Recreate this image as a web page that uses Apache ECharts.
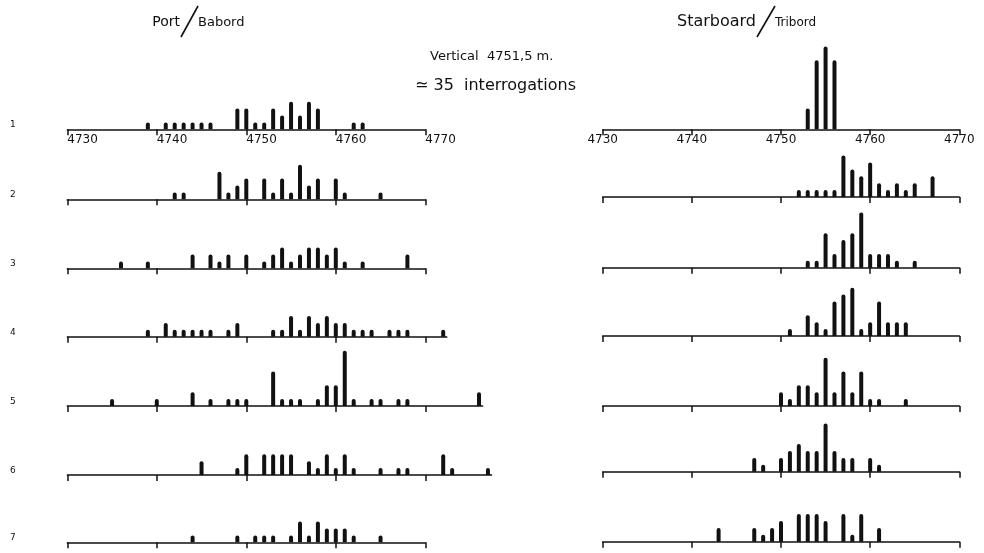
<!DOCTYPE html>
<html><head><meta charset="utf-8">
<script src="https://cdn.jsdelivr.net/npm/echarts@6/dist/echarts.min.js"></script>
<style>html,body{margin:0;padding:0;background:#fff}#c{width:984px;height:553px}</style>
</head><body><div id="c"></div><script>
// ---------- DATA (depth in m, count of interrogations) ----------
const tickValues = [4730, 4740, 4750, 4760, 4770];
const rowLabels = ['1', '2', '3', '4', '5', '6', '7'];
const titlePort = ['Port', 'Babord'];
const titleStar = ['Starboard', 'Tribord'];
const noteLines = ['Vertical  4751,5 m.', '\u2243 35  interrogations'];

const port1 = [[4739,1],[4741,1],[4742,1],[4743,1],[4744,1],[4745,1],[4746,1],[4749,3],[4750,3],[4751,1],[4752,1],[4753,3],[4754,2],[4755,4],[4756,2],[4757,4],[4758,3],[4762,1],[4763,1]];
const port2 = [[4742,1],[4743,1],[4747,4],[4748,1],[4749,2],[4750,3],[4752,3],[4753,1],[4754,3],[4755,1],[4756,5],[4757,2],[4758,3],[4760,3],[4761,1],[4765,1]];
const port3 = [[4736,1],[4739,1],[4744,2],[4746,2],[4747,1],[4748,2],[4750,2],[4752,1],[4753,2],[4754,3],[4755,1],[4756,2],[4757,3],[4758,3],[4759,2],[4760,3],[4761,1],[4763,1],[4768,2]];
const port4 = [[4739,1],[4741,2],[4742,1],[4743,1],[4744,1],[4745,1],[4746,1],[4748,1],[4749,2],[4753,1],[4754,1],[4755,3],[4756,1],[4757,3],[4758,2],[4759,3],[4760,2],[4761,2],[4762,1],[4763,1],[4764,1],[4766,1],[4767,1],[4768,1],[4772,1]];
const port5 = [[4735,1],[4740,1],[4744,2],[4746,1],[4748,1],[4749,1],[4750,1],[4753,5],[4754,1],[4755,1],[4756,1],[4758,1],[4759,3],[4760,3],[4761,8],[4762,1],[4764,1],[4765,1],[4767,1],[4768,1],[4776,2]];
const port6 = [[4745,2],[4749,1],[4750,3],[4752,3],[4753,3],[4754,3],[4755,3],[4757,2],[4758,1],[4759,3],[4760,1],[4761,3],[4762,1],[4765,1],[4767,1],[4768,1],[4772,3],[4773,1],[4777,1]];
const port7 = [[4744,1],[4749,1],[4751,1],[4752,1],[4753,1],[4755,1],[4756,3],[4757,1],[4758,3],[4759,2],[4760,2],[4761,2],[4762,1],[4765,1]];

const star1 = [[4753,3],[4754,10],[4755,12],[4756,10]];
const star2 = [[4752,1],[4753,1],[4754,1],[4755,1],[4756,1],[4757,6],[4758,4],[4759,3],[4760,5],[4761,2],[4762,1],[4763,2],[4764,1],[4765,2],[4767,3]];
const star3 = [[4753,1],[4754,1],[4755,5],[4756,2],[4757,4],[4758,5],[4759,8],[4760,2],[4761,2],[4762,2],[4763,1],[4765,1]];
const star4 = [[4751,1],[4753,3],[4754,2],[4755,1],[4756,5],[4757,6],[4758,7],[4759,1],[4760,2],[4761,5],[4762,2],[4763,2],[4764,2]];
const star5 = [[4750,2],[4751,1],[4752,3],[4753,3],[4754,2],[4755,7],[4756,2],[4757,5],[4758,2],[4759,5],[4760,1],[4761,1],[4764,1]];
const star6 = [[4747,2],[4748,1],[4750,2],[4751,3],[4752,4],[4753,3],[4754,3],[4755,7],[4756,3],[4757,2],[4758,2],[4760,2],[4761,1]];
const star7 = [[4743,2],[4747,2],[4748,1],[4749,2],[4750,3],[4752,4],[4753,4],[4754,4],[4755,3],[4757,4],[4758,1],[4759,4],[4761,2]];

const portRows = [port1, port2, port3, port4, port5, port6, port7];
const starRows = [star1, star2, star3, star4, star5, star6, star7];

// ---------- LAYOUT ----------
const INK = '#111';
const FONT = 'DejaVu Sans';
const UNIT = 6.9, YMAX = 12;
const leftBase = [129.3, 199.3, 268.3, 336.7, 406, 475, 542.3];
const rightBase = [129.3, 197, 267.7, 336, 406, 471.7, 541.7];
const xMin = tickValues[0], xMax = tickValues[tickValues.length - 1];
const cols = [
  {left: 67.3, width: 358, base: leftBase, rows: portRows, align: 'left'},
  {left: 602.7, width: 356.6, base: rightBase, rows: starRows, align: 'center'}
];

const grid = [], xAxis = [], yAxis = [], series = [];
cols.forEach((c) => {
  const pxPerM = c.width / (xMax - xMin);
  c.rows.forEach((rowData, ri) => {
    const gi = grid.length;
    const b = c.base[ri];
    const maxPos = Math.max(...rowData.map(d => d[0]));
    const axMax = maxPos > xMax ? maxPos + 0.4 : xMax;
    grid.push({left: c.left, width: (axMax - xMin) * pxPerM, top: b - YMAX * UNIT, height: YMAX * UNIT});
    xAxis.push({
      gridIndex: gi, type: 'value', min: xMin, max: axMax,
      axisLine: {show: true, lineStyle: {color: INK, width: 1.5}},
      axisTick: {show: true, length: 6, customValues: tickValues, lineStyle: {color: INK, width: 1.5}},
      splitLine: {show: false},
      axisLabel: {show: ri === 0, customValues: tickValues, color: INK, fontFamily: FONT, fontSize: 12, margin: 5, align: c.align,
        formatter: v => String(v)}
    });
    yAxis.push({gridIndex: gi, type: 'value', min: 0, max: YMAX, show: false, splitLine: {show: false}});
    series.push({
      type: 'bar', xAxisIndex: gi, yAxisIndex: gi, data: rowData, barWidth: 4, clip: false,
      itemStyle: {color: INK, borderRadius: [2, 2, 0, 0]}, silent: true, animation: false
    });
  });
});

const graphic = [];
rowLabels.forEach((t, i) => {
  graphic.push({type: 'text', left: 10, top: leftBase[i] - 9, style: {text: t, fill: INK, font: '9px ' + FONT}});
});
function title(parts, xL, xR, s1, s2) {
  graphic.push({type: 'text', x: xL - 1, y: 22, style: {text: parts[0], fill: INK, font: s1 + 'px ' + FONT, textAlign: 'right', textVerticalAlign: 'middle'}});
  graphic.push({type: 'line', shape: {x1: xL, y1: 37, x2: xR, y2: 6}, style: {stroke: INK, lineWidth: 1.6}});
  graphic.push({type: 'text', x: xR, y: 23, style: {text: parts[1], fill: INK, font: s2 + 'px ' + FONT, textAlign: 'left', textVerticalAlign: 'middle'}});
}
title(titlePort, 181, 198, 14, 13);
title(titleStar, 757, 775, 16, 12);
graphic.push({type: 'text', x: 430, y: 57, style: {text: noteLines[0], fill: INK, font: '13px ' + FONT, textVerticalAlign: 'middle'}});
graphic.push({type: 'text', x: 415, y: 86, style: {text: noteLines[1], fill: INK, font: '16px ' + FONT, textVerticalAlign: 'middle'}});

const chart = echarts.init(document.getElementById('c'), null, {renderer: 'canvas'});
chart.setOption({backgroundColor: '#fff', animation: false, grid, xAxis, yAxis, series, graphic});
</script></body></html>
